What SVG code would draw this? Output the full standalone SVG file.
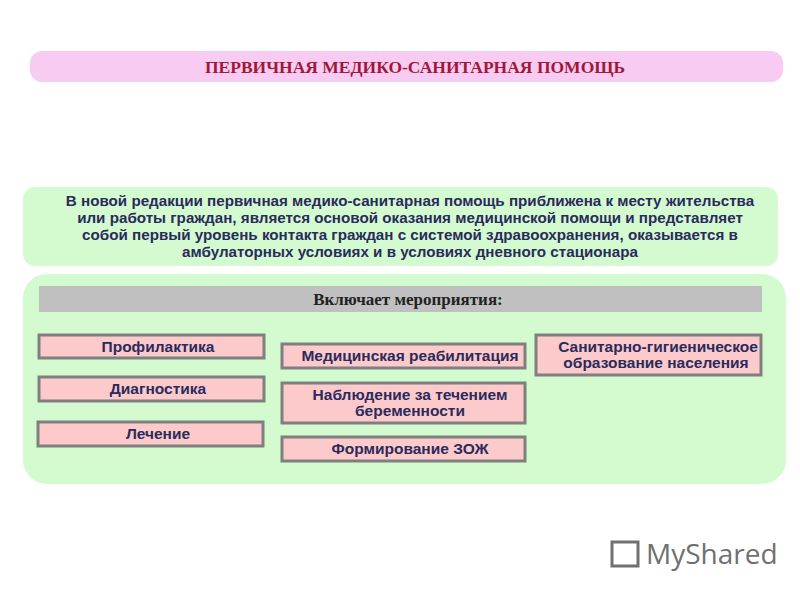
<svg xmlns="http://www.w3.org/2000/svg" width="800" height="600" viewBox="0 0 800 600">
<style>
.b{fill:#fccaca;stroke:#7f7f7f;stroke-width:3}
.t{font-family:"Liberation Sans",Arial,sans-serif;font-weight:bold;font-size:15.5px;fill:#2b2a5c;text-anchor:middle}
</style>
<rect width="800" height="600" fill="#fff"/>
<g id="title"><rect x="30" y="51" width="753" height="31" rx="12" fill="#f8ccf2"/>
<text x="415" y="73" font-family="Liberation Serif,serif" font-weight="bold" font-size="17.5" fill="#a01838" text-anchor="middle">ПЕРВИЧНАЯ МЕДИКО-САНИТАРНАЯ ПОМОЩЬ</text></g>
<g id="desc"><rect x="23" y="187" width="755" height="79" rx="12" fill="#d3fbcf"/>
<text class="t" style="font-size:15.2px"><tspan x="410" y="206">В новой редакции первичная медико-санитарная помощь приближена к месту жительства</tspan><tspan x="410" y="223">или работы граждан, является основой оказания медицинской помощи и представляет</tspan><tspan x="410" y="240">собой первый уровень контакта граждан с системой здравоохранения, оказывается в</tspan><tspan x="410" y="257">амбулаторных условиях и в условиях дневного стационара</tspan></text></g>
<g id="includes"><rect x="23" y="274" width="763" height="210" rx="24" fill="#d3fbcf"/>
<rect x="39" y="286" width="723" height="26" fill="#c0c0c0"/>
<text x="408" y="305" font-family="Liberation Serif,serif" font-weight="bold" font-size="17" fill="#222" text-anchor="middle">Включает мероприятия:</text></g>
<g id="n1"><rect class="b" x="39" y="335" width="225" height="23"/><text class="t" x="158" y="352">Профилактика</text></g>
<g id="n2"><rect class="b" x="39" y="377" width="225" height="24"/><text class="t" x="158" y="394">Диагностика</text></g>
<g id="n3"><rect class="b" x="38" y="422" width="225" height="24"/><text class="t" x="158" y="439">Лечение</text></g>
<g id="n4"><rect class="b" x="282" y="344" width="243" height="24"/><text class="t" x="410" y="361">Медицинская реабилитация</text></g>
<g id="n5"><rect class="b" x="282" y="383" width="243" height="40"/><text class="t"><tspan x="410" y="400">Наблюдение за течением</tspan><tspan x="410" y="416">беременности</tspan></text></g>
<g id="n6"><rect class="b" x="282" y="437" width="243" height="24"/><text class="t" x="410" y="454">Формирование ЗОЖ</text></g>
<g id="n7"><rect class="b" x="536" y="335" width="225" height="40"/><text class="t"><tspan x="658" y="352">Санитарно-гигиеническое</tspan><tspan x="656" y="368">образование населения</tspan></text></g>
<g id="connectors"/>
<g id="watermark"><text x="646" y="564" font-family="Open Sans,sans-serif" font-size="28" fill="#707070">MyShared</text>
<rect x="612" y="542" width="26" height="24" fill="none" stroke="#707070" stroke-width="3"/></g>
</svg>
